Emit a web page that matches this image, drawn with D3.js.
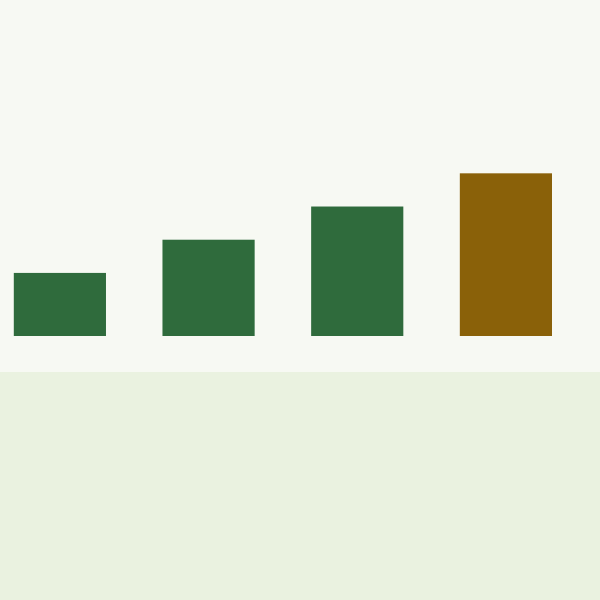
<!DOCTYPE html>
<html>
<head>
<meta charset="utf-8">
<script src="https://cdn.jsdelivr.net/npm/d3@7"></script>
<style>
html,body{margin:0;padding:0;background:#f7f9f3;}
svg{display:block;}
</style>
</head>
<body>
<div id="chart"></div>
<script>
const categories = ["A", "B", "C", "D"];
const values = [38, 58, 78, 98];
const highlight = ["D"];

const W = 600, H = 600;
const svg = d3.select("#chart").append("svg").attr("width", W).attr("height", H);

svg.append("rect").attr("x", 0).attr("y", 0).attr("width", W).attr("height", 372).attr("fill", "#f7f9f3");
svg.append("rect").attr("x", 0).attr("y", 372).attr("width", W).attr("height", H - 372).attr("fill", "#eaf2e0");

const x = d3.scaleBand().domain(categories).range([13.8, 552]).paddingInner(0.38).paddingOuter(0);
const y = d3.scaleLinear().domain([0, 100]).range([336, 170]);

svg.selectAll("rect.bar").data(categories).enter().append("rect")
  .attr("class", "bar")
  .attr("x", d => x(d))
  .attr("width", x.bandwidth())
  .attr("y", (d, i) => y(values[i]))
  .attr("height", (d, i) => y(0) - y(values[i]))
  .attr("fill", d => highlight.includes(d) ? "#8a6109" : "#2f6b3c");
</script>
</body>
</html>
